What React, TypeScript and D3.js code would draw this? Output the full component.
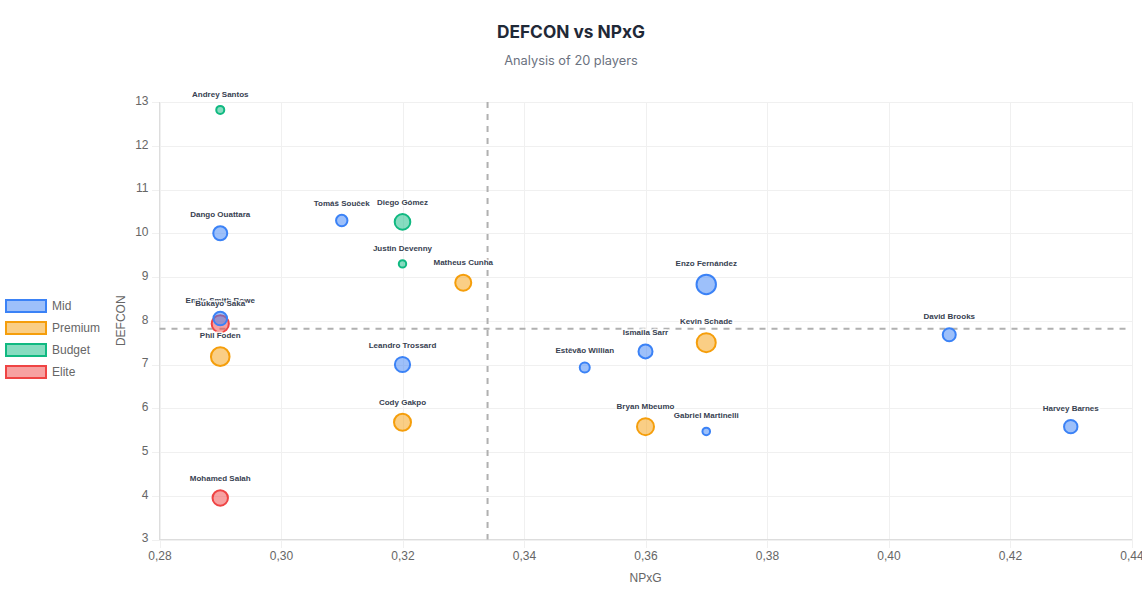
import React, { useEffect, useRef } from 'react';
import * as d3 from 'd3';

const players = ["Andrey Santos","Dango Ouattara","Tomáš Souček","Diego Gómez","Justin Devenny","Matheus Cunha","Enzo Fernández","Emile Smith Rowe","Bukayo Saka","Phil Foden","Leandro Trossard","Cody Gakpo","Mohamed Salah","Estêvão Willian","Ismaila Sarr","Kevin Schade","David Brooks","Bryan Mbeumo","Gabriel Martinelli","Harvey Barnes"];
const npxg = [0.29,0.29,0.31,0.32,0.32,0.33,0.37,0.29,0.29,0.29,0.32,0.32,0.29,0.35,0.36,0.37,0.41,0.36,0.37,0.43];
const defcon = [12.82,10,10.29,10.26,9.3,8.87,8.83,8.05,7.93,7.18,7,5.68,3.95,6.93,7.3,7.5,7.68,5.58,5.47,5.58];
// bubble weight, drawn on a linear radius scale
const weights = [40,70,57,78,37,80,97,68,86,93,76,85,77,50,70,95,65,85,38,67];
const groups = ["Budget","Mid","Mid","Budget","Budget","Premium","Mid","Mid","Elite","Premium","Mid","Premium","Elite","Mid","Mid","Premium","Mid","Premium","Mid","Mid"];

const legendOrder = ["Mid","Premium","Budget","Elite"];
const strokes: Record<string,string> = { Mid:"#3b82f6", Premium:"#f59e0b", Budget:"#10b981", Elite:"#ef4444" };
const avgX = 0.334;
const avgY = 7.82;

const W = 1142, H = 605;
const margin = { top: 102, right: 10.5, bottom: 65.5, left: 159.5 };
const font = "'Liberation Sans', Arial, sans-serif";

const App = () => {
  const ref = useRef<SVGSVGElement | null>(null);

  useEffect(() => {
    const svg = d3.select(ref.current);
    svg.selectAll("*").remove();

    const x = d3.scaleLinear().domain([0.28,0.44]).range([margin.left, W - margin.right]);
    const y = d3.scaleLinear().domain([3,13]).range([H - margin.bottom, margin.top]);
    const r = d3.scaleLinear().domain([0,100]).range([0,10]);
    const comma = d3.formatLocale({ decimal: ",", thousands: ".", grouping: [3], currency: ["","€"] }).format(".2f");

    // grid
    const xAxis = svg.append("g")
      .attr("transform", `translate(0,${H - margin.bottom})`)
      .call(d3.axisBottom(x).tickValues(d3.range(0.28,0.441,0.02)).tickFormat(d => comma(d as number)).tickSize(8).tickPadding(4));
    xAxis.selectAll(".tick line").clone()
      .attr("y1", 0).attr("y2", margin.top - (H - margin.bottom));
    const yAxis = svg.append("g")
      .attr("transform", `translate(${margin.left},0)`)
      .call(d3.axisLeft(y).tickValues(d3.range(3,14)).tickFormat(d3.format("d") as any).tickSize(8).tickPadding(3));
    yAxis.selectAll(".tick line").clone()
      .attr("x1", 0).attr("x2", W - margin.right - margin.left);
    yAxis.selectAll(".tick text").attr("dy", "0.2em");
    svg.selectAll(".tick line").attr("stroke", "#f0f0f0").attr("shape-rendering", "crispEdges");
    svg.selectAll(".tick text").attr("fill", "#666").style("font-size", "12px").style("font-family", font);
    svg.selectAll(".domain").remove();
    svg.append("line").attr("x1", margin.left).attr("x2", margin.left).attr("y1", margin.top).attr("y2", H - margin.bottom)
      .attr("stroke", "#ddd").attr("shape-rendering", "crispEdges");
    svg.append("line").attr("x1", margin.left).attr("x2", W - margin.right).attr("y1", H - margin.bottom).attr("y2", H - margin.bottom)
      .attr("stroke", "#ddd").attr("shape-rendering", "crispEdges");

    // average lines
    svg.append("line").attr("x1", x(avgX)).attr("x2", x(avgX)).attr("y1", margin.top).attr("y2", H - margin.bottom)
      .attr("stroke", "#b0b0b0").attr("stroke-width", 2).attr("stroke-dasharray", "6,6");
    svg.append("line").attr("x1", margin.left).attr("x2", W - margin.right).attr("y1", y(avgY)).attr("y2", y(avgY))
      .attr("stroke", "#b0b0b0").attr("stroke-width", 2).attr("stroke-dasharray", "6,6");

    // bubbles, first legend group ends up on top
    const drawOrder = players.map((name, i) => i)
      .sort((a, b) => legendOrder.indexOf(groups[b]) - legendOrder.indexOf(groups[a]));
    svg.append("g").selectAll("circle")
      .data(drawOrder)
      .join("circle")
      .attr("cx", i => x(npxg[i]))
      .attr("cy", i => y(defcon[i]))
      .attr("r", i => r(weights[i]))
      .attr("fill", i => strokes[groups[i]])
      .attr("fill-opacity", 0.5)
      .attr("stroke", i => strokes[groups[i]])
      .attr("stroke-width", 2);

    // player labels
    svg.append("g").selectAll("text")
      .data(players.map((name, i) => i))
      .join("text")
      .attr("x", i => x(npxg[i]))
      .attr("y", i => y(defcon[i]) - r(weights[i]) - 9.2)
      .attr("text-anchor", "middle")
      .attr("fill", "#374151")
      .attr("stroke", "rgba(255,255,255,0.85)")
      .attr("stroke-width", 3)
      .attr("paint-order", "stroke")
      .style("font-family", font)
      .style("font-size", "8px")
      .style("font-weight", 700)
      .text(i => players[i]);

    // axis titles
    svg.append("text").attr("x", (margin.left + W - margin.right) / 2).attr("y", 582)
      .attr("text-anchor", "middle").attr("fill", "#666").style("font-family", font).style("font-size", "12px").text("NPxG");
    svg.append("text").attr("transform", `translate(125,${(margin.top + H - margin.bottom) / 2}) rotate(-90)`)
      .attr("text-anchor", "middle").attr("fill", "#666").style("font-family", font).style("font-size", "12px").text("DEFCON");

    // legend
    const legend = svg.append("g").selectAll("g").data(legendOrder).join("g")
      .attr("transform", (d, i) => `translate(6,${300 + i * 22})`);
    legend.append("rect").attr("width", 40).attr("height", 12)
      .attr("fill", d => strokes[d]).attr("fill-opacity", 0.5)
      .attr("stroke", d => strokes[d]).attr("stroke-width", 2);
    legend.append("text").attr("x", 46).attr("y", 10).attr("fill", "#666")
      .style("font-family", font).style("font-size", "12px").text(d => d);

    // titles
    svg.append("text").attr("x", 571).attr("y", 38).attr("text-anchor", "middle").attr("fill", "#1f2937")
      .style("font-family", "Inter, sans-serif").style("font-size", "17.3px").style("font-weight", 700).text("DEFCON vs NPxG");
    svg.append("text").attr("x", 571).attr("y", 65).attr("text-anchor", "middle").attr("fill", "#6b7280")
      .style("font-family", "Inter, sans-serif").style("font-size", "12.8px").text("Analysis of 20 players");
  }, []);

  return <svg ref={ref} width={W} height={H} style={{ position: "fixed", left: 0, top: 0, background: "#fff" }} />;
};

export default App;
